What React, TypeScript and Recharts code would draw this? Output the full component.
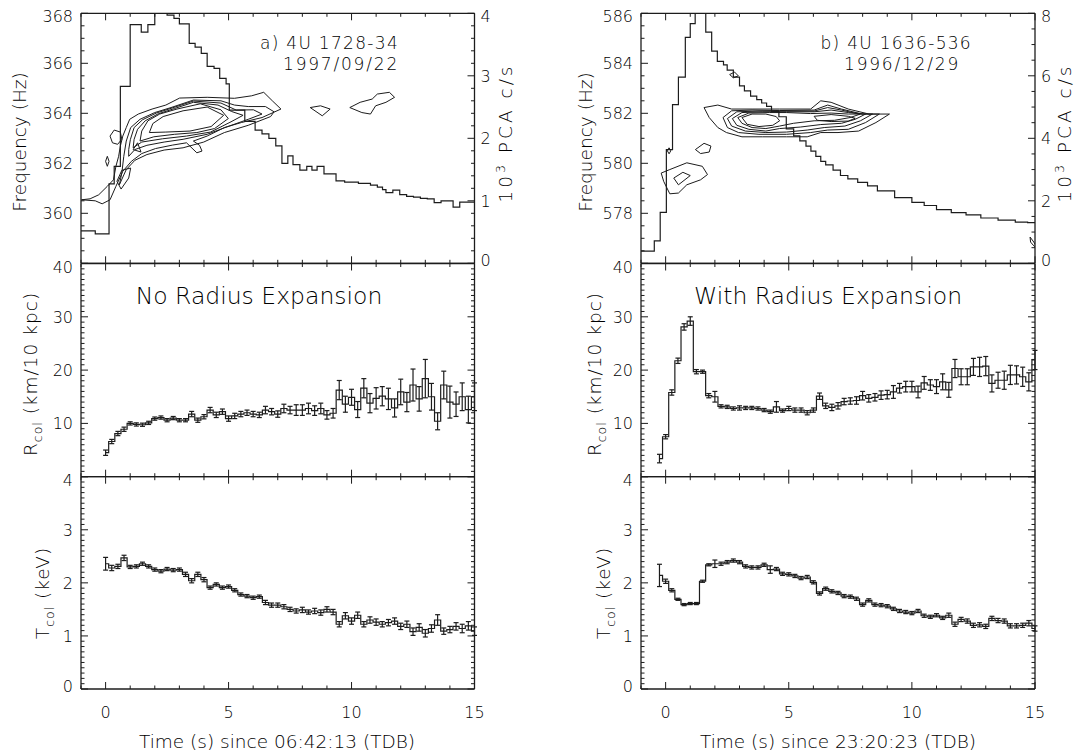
import React from 'react';
import { ComposedChart, Line, Scatter, XAxis, YAxis, ErrorBar } from 'recharts';

const W = 1076;
const H = 751;
const INK = '#1c1c1c';
const TEXT = '#000';
const FONT = '"DejaVu Sans", "Liberation Sans", sans-serif';
const AXW = 40;
const AXH = 10;

// plot boxes (pixels on the page)
const COL_L = { left: 81, right: 474.5 };
const COL_R = { left: 641, right: 1035 };
const ROW_TOP = { top: 13.3, bottom: 263.3 };
const ROW_MID = { top: 263.5, bottom: 476.7 };
const ROW_BOT = { top: 476.7, bottom: 689 };

// ---- data: 4U 1728-34 (left) ----
const TIME_L = [0, 0.25, 0.5, 0.75, 1, 1.25, 1.5, 1.75, 2, 2.25, 2.5, 2.75, 3, 3.25, 3.5, 3.75, 4, 4.25, 4.5, 4.75, 5, 5.25, 5.5, 5.75, 6, 6.25, 6.5, 6.75, 7, 7.25, 7.5, 7.75, 8, 8.25, 8.5, 8.75, 9, 9.25, 9.5, 9.75, 10, 10.25, 10.5, 10.75, 11, 11.25, 11.5, 11.75, 12, 12.25, 12.5, 12.75, 13, 13.25, 13.5, 13.75, 14, 14.25, 14.5, 14.75, 15];
const RCOL_L = [4.5, 6.6, 8.1, 8.9, 10.0, 9.8, 9.75, 10.1, 10.9, 11.1, 10.6, 11.0, 10.6, 10.6, 11.75, 10.6, 11.25, 12.5, 11.6, 12.2, 10.9, 11.4, 11.75, 12.0, 11.75, 11.6, 12.5, 12.2, 11.75, 12.8, 12.5, 12.5, 12.5, 12.8, 12.4, 12.8, 11.6, 11.9, 16.25, 13.6, 14.9, 12.6, 16.6, 13.8, 14.7, 15.1, 14.6, 12.9, 15.9, 14.0, 17.2, 14.6, 18.4, 15.0, 10.4, 17.2, 14.0, 13.6, 15.0, 12.6, 15.0];
const RERR_L = [0.5, 0.4, 0.4, 0.4, 0.3, 0.3, 0.3, 0.3, 0.3, 0.3, 0.3, 0.3, 0.3, 0.3, 0.5, 0.4, 0.4, 0.5, 0.5, 0.5, 0.5, 0.5, 0.5, 0.5, 0.5, 0.5, 0.7, 0.6, 0.6, 0.8, 0.7, 1.0, 1.0, 1.0, 0.9, 1.0, 0.8, 0.9, 1.8, 1.5, 1.5, 1.5, 1.8, 1.8, 2.0, 1.8, 2.0, 1.7, 2.4, 1.8, 3.0, 2.3, 3.6, 2.5, 1.6, 2.6, 3.0, 2.3, 2.6, 2.5, 2.6];
const TCOL_L = [2.36, 2.28, 2.31, 2.47, 2.30, 2.31, 2.36, 2.31, 2.25, 2.22, 2.26, 2.24, 2.25, 2.16, 2.04, 2.16, 2.06, 1.91, 1.97, 1.91, 1.93, 1.86, 1.78, 1.75, 1.72, 1.74, 1.63, 1.58, 1.58, 1.55, 1.50, 1.47, 1.49, 1.45, 1.47, 1.44, 1.50, 1.45, 1.22, 1.38, 1.28, 1.39, 1.22, 1.30, 1.26, 1.22, 1.25, 1.28, 1.18, 1.22, 1.08, 1.16, 1.05, 1.14, 1.30, 1.09, 1.12, 1.18, 1.14, 1.19, 1.09];
const TERR_L = [0.12, 0.05, 0.04, 0.05, 0.03, 0.03, 0.03, 0.03, 0.03, 0.03, 0.03, 0.03, 0.03, 0.04, 0.04, 0.04, 0.04, 0.03, 0.03, 0.03, 0.03, 0.03, 0.03, 0.03, 0.03, 0.03, 0.04, 0.04, 0.04, 0.04, 0.04, 0.04, 0.05, 0.04, 0.05, 0.05, 0.05, 0.05, 0.05, 0.06, 0.06, 0.06, 0.05, 0.06, 0.06, 0.05, 0.06, 0.06, 0.06, 0.06, 0.07, 0.07, 0.07, 0.07, 0.1, 0.06, 0.06, 0.07, 0.08, 0.08, 0.08];
// PCA count rate (10^3 c/s), bin start times
const CNT_T_L = [-1.0, -0.42, 0.14, 0.35, 0.6, 1.0, 1.45, 1.72, 2.0, 2.2, 2.5, 2.78, 3.0, 3.4, 3.64, 3.89, 4.13, 4.41, 4.64, 4.9, 5.03, 5.66, 6.08, 6.36, 6.64, 6.92, 7.17, 7.41, 7.62, 7.9, 8.18, 8.39, 8.6, 8.88, 9.37, 9.72, 10.28, 10.77, 11.05, 11.26, 11.4, 11.68, 11.96, 12.24, 12.52, 12.8, 13.08, 13.36, 13.64, 14.13, 14.4, 15.0];
const CNT_L = [0.52, 0.47, 1.27, 1.55, 2.83, 3.82, 3.70, 3.82, 4.02, 4.3, 3.97, 3.92, 3.83, 3.52, 3.46, 3.36, 3.15, 3.12, 2.96, 2.87, 2.45, 2.27, 2.13, 2.07, 2.0, 1.88, 1.6, 1.72, 1.58, 1.49, 1.55, 1.49, 1.55, 1.43, 1.32, 1.30, 1.28, 1.25, 1.22, 1.18, 1.13, 1.17, 1.1, 1.07, 1.06, 1.04, 1.03, 0.97, 1.0, 0.9, 0.98, 0.98];
// oscillation power contours (time s, frequency Hz)
const CONT_L: number[][][] = [
  [[-0.98, 360.54], [-0.42, 360.5], [-0.14, 360.38], [0.18, 360.54], [0.42, 361.08], [0.7, 361.68], [1.05, 362.08], [1.47, 362.39], [2.03, 362.59], [2.73, 362.73], [3.29, 362.82], [3.71, 362.42], [3.92, 362.49], [3.82, 362.72], [3.57, 362.89], [4.13, 363.09], [4.83, 363.43], [5.52, 363.63], [6.36, 363.83], [7.13, 364.17], [6.78, 364.5], [6.43, 364.84], [5.94, 364.7], [5.24, 364.6], [4.13, 364.64], [3.01, 364.61], [2.45, 364.33], [1.89, 364.17], [1.33, 363.97], [0.98, 363.76], [0.84, 363.43], [0.7, 363.09], [0.6, 362.69], [0.53, 362.28], [0.42, 361.88], [0.32, 361.34], [0.07, 361.08], [-0.28, 360.74], [-0.63, 360.58]],
  [[0.56, 361.14], [0.84, 361.75], [1.19, 362.12], [1.68, 362.35], [2.38, 362.53], [3.15, 362.62], [3.99, 362.85], [4.83, 363.23], [5.8, 363.52], [6.71, 363.87], [6.85, 364.06], [6.5, 364.27], [5.8, 364.27], [5.24, 364.33], [4.69, 364.5], [3.57, 364.53], [2.66, 364.23], [2.0, 364.03], [1.4, 363.76], [1.02, 363.43], [0.84, 362.89], [0.74, 362.28], [0.66, 361.61]],
  [[0.94, 362.28], [1.19, 362.55], [1.68, 362.72], [2.38, 362.85], [3.15, 362.96], [4.13, 363.16], [4.97, 363.47], [5.8, 363.76], [6.36, 363.97], [6.01, 364.14], [5.31, 364.13], [4.69, 364.41], [3.57, 364.49], [2.73, 364.22], [2.06, 364.01], [1.5, 363.74], [1.16, 363.43], [1.01, 362.96], [0.94, 362.55]],
  [[1.12, 362.62], [1.47, 362.85], [2.31, 362.98], [3.29, 363.09], [4.27, 363.25], [5.1, 363.66], [5.59, 363.92], [5.13, 364.07], [4.57, 364.33], [3.57, 364.44], [2.8, 364.19], [2.14, 363.98], [1.61, 363.7], [1.3, 363.36], [1.16, 362.96]],
  [[1.4, 362.89], [1.96, 363.06], [2.8, 363.16], [3.71, 363.23], [4.43, 363.39], [4.99, 363.79], [4.69, 364.14], [3.85, 364.38], [2.9, 364.17], [2.2, 363.97], [1.72, 363.7], [1.47, 363.29]],
  [[1.78, 363.23], [2.45, 363.25], [3.43, 363.29], [4.29, 363.47], [4.8, 363.92], [4.13, 364.25], [3.15, 364.1], [2.34, 363.87], [1.92, 363.59]],
  [[1.12, 362.55], [1.3, 362.82], [1.44, 362.45]],
  [[0.18, 363.09], [0.35, 363.33], [0.6, 363.25], [0.66, 362.96], [0.49, 362.76], [0.28, 362.82]],
  [[0.0, 362.08], [0.07, 362.28], [0.14, 362.08], [0.07, 361.88]],
  [[0.46, 361.28], [0.66, 361.72], [1.02, 361.81], [0.94, 361.41], [0.63, 360.97]],
  [[8.32, 364.23], [8.74, 364.3], [9.13, 364.17], [8.81, 363.9]],
  [[9.93, 364.23], [10.35, 364.44], [10.84, 364.57], [11.05, 364.77], [11.54, 364.84], [11.75, 364.64], [11.4, 364.44], [10.98, 364.3], [10.77, 363.97], [10.42, 364.03]],
];

// ---- data: 4U 1636-536 (right) ----
const TIME_R = [-0.25, ...TIME_L];
const RCOL_R = [3.4, 7.5, 15.8, 21.75, 28.1, 29.2, 19.7, 19.7, 15.2, 15.0, 13.2, 13.1, 12.8, 12.9, 12.9, 12.9, 12.8, 12.5, 12.2, 13.1, 12.4, 12.8, 12.5, 12.5, 12.0, 12.5, 15.1, 13.3, 13.0, 13.3, 14.1, 14.2, 14.3, 15.2, 14.7, 14.9, 15.3, 15.4, 15.9, 16.6, 16.9, 16.9, 15.9, 17.6, 17.2, 16.9, 17.8, 16.3, 20.3, 18.75, 18.75, 20.6, 20.6, 20.75, 17.5, 18.1, 18.1, 19.1, 19.1, 18.75, 17.8, 21.9];
const RERR_R = [0.8, 0.4, 0.5, 0.5, 0.6, 0.8, 0.4, 0.3, 0.4, 1.0, 0.3, 0.3, 0.3, 0.4, 0.3, 0.3, 0.3, 0.3, 0.3, 1.0, 0.3, 0.4, 0.4, 0.4, 0.4, 0.4, 0.6, 0.5, 0.6, 0.6, 0.6, 0.6, 0.7, 0.8, 0.7, 0.7, 0.8, 0.8, 1.2, 0.9, 1.0, 1.0, 1.1, 1.2, 1.0, 1.3, 1.5, 1.4, 1.7, 1.5, 1.5, 1.6, 1.8, 1.8, 1.6, 1.5, 1.7, 1.8, 1.7, 1.8, 1.7, 1.8];
const TCOL_R = [2.14, 2.03, 1.86, 1.69, 1.59, 1.61, 1.61, 2.03, 2.34, 2.36, 2.36, 2.39, 2.42, 2.39, 2.31, 2.29, 2.29, 2.34, 2.25, 2.26, 2.17, 2.16, 2.13, 2.09, 2.11, 2.01, 1.80, 1.89, 1.84, 1.81, 1.75, 1.74, 1.70, 1.59, 1.67, 1.59, 1.58, 1.56, 1.51, 1.47, 1.45, 1.43, 1.47, 1.38, 1.36, 1.39, 1.34, 1.39, 1.22, 1.31, 1.28, 1.20, 1.21, 1.18, 1.33, 1.29, 1.28, 1.19, 1.19, 1.20, 1.24, 1.14];
const TERR_R = [0.21, 0.04, 0.03, 0.02, 0.02, 0.02, 0.02, 0.02, 0.02, 0.07, 0.03, 0.03, 0.03, 0.03, 0.03, 0.03, 0.03, 0.03, 0.07, 0.03, 0.03, 0.03, 0.03, 0.03, 0.03, 0.03, 0.03, 0.03, 0.03, 0.03, 0.03, 0.03, 0.03, 0.03, 0.03, 0.03, 0.03, 0.03, 0.03, 0.03, 0.03, 0.03, 0.03, 0.03, 0.03, 0.03, 0.03, 0.04, 0.04, 0.04, 0.04, 0.04, 0.04, 0.04, 0.04, 0.04, 0.04, 0.04, 0.04, 0.04, 0.05, 0.05];
const CNT_T_R = [-1.0, -0.46, -0.22, 0.03, 0.28, 0.52, 0.8, 1.0, 1.2, 1.38, 1.63, 1.87, 2.1, 2.35, 2.5, 2.75, 3.0, 3.2, 3.45, 3.7, 3.9, 4.1, 4.3, 4.6, 4.9, 5.2, 5.45, 5.7, 5.9, 6.1, 6.3, 6.5, 6.8, 7.1, 7.4, 7.8, 8.2, 8.6, 9.3, 10.0, 10.5, 11.0, 11.6, 12.2, 12.8, 13.5, 14.2, 14.7, 15.0];
const CNT_R = [0.39, 0.72, 1.63, 3.64, 5.08, 5.96, 7.23, 7.67, 8.0, 8.6, 7.4, 6.79, 6.46, 6.35, 6.18, 5.96, 5.68, 5.52, 5.35, 5.24, 5.13, 5.02, 4.86, 4.69, 4.3, 4.08, 3.92, 3.75, 3.59, 3.42, 3.26, 3.15, 2.98, 2.81, 2.70, 2.59, 2.48, 2.32, 2.10, 1.95, 1.85, 1.72, 1.62, 1.55, 1.45, 1.38, 1.32, 1.30, 1.30];
const CONT_R: number[][][] = [
  [[1.56, 582.23], [2.12, 582.33], [2.68, 582.17], [3.51, 582.17], [4.63, 582.17], [5.89, 582.17], [6.3, 582.5], [6.72, 582.44], [7.42, 582.17], [8.26, 581.97], [9.09, 581.97], [8.54, 581.63], [7.84, 581.29], [7.0, 581.23], [6.3, 581.23], [5.75, 581.06], [4.91, 581.06], [3.93, 581.06], [3.1, 581.06], [2.47, 581.23], [2.12, 581.43], [1.77, 581.83]],
  [[2.33, 581.83], [2.68, 582.1], [3.51, 582.13], [4.63, 582.11], [6.03, 582.13], [6.58, 582.33], [7.14, 582.17], [7.98, 581.97], [8.68, 581.97], [8.12, 581.63], [7.42, 581.36], [6.58, 581.33], [5.89, 581.23], [4.91, 581.16], [3.79, 581.16], [2.96, 581.23], [2.51, 581.43]],
  [[2.51, 581.79], [2.89, 582.06], [3.79, 582.09], [4.91, 582.09], [6.03, 582.09], [6.58, 582.23], [7.14, 582.13], [7.84, 581.97], [8.4, 581.97], [7.91, 581.7], [7.28, 581.49], [6.44, 581.43], [5.75, 581.33], [4.91, 581.25], [4.07, 581.23], [3.24, 581.29], [2.68, 581.49]],
  [[2.71, 581.79], [3.1, 582.03], [3.93, 582.06], [4.91, 582.06], [6.03, 582.06], [6.72, 582.13], [7.42, 582.03], [8.12, 581.97], [7.7, 581.76], [7.14, 581.6], [6.3, 581.55], [5.47, 581.45], [4.63, 581.39], [4.07, 581.29], [3.38, 581.36], [2.89, 581.52]],
  [[2.93, 581.83], [3.38, 582.01], [4.21, 582.03], [4.91, 582.03], [5.89, 581.99], [6.72, 582.01], [7.42, 581.97], [7.91, 581.97], [7.49, 581.83], [6.86, 581.72], [6.03, 581.7], [5.19, 581.6], [4.63, 581.49], [4.07, 581.39], [3.51, 581.43], [3.1, 581.6]],
  [[3.1, 581.83], [3.51, 581.97], [4.07, 581.97], [4.49, 581.87], [4.63, 581.7], [4.35, 581.52], [3.79, 581.47], [3.31, 581.56]],
  [[6.03, 581.88], [6.72, 581.95], [7.42, 581.88], [7.7, 581.8], [7.42, 581.69], [6.72, 581.67], [6.16, 581.72]],
  [[0.07, 580.5], [0.14, 580.62], [0.21, 580.5], [0.14, 580.38]],
  [[1.21, 580.55], [1.56, 580.8], [1.84, 580.69], [1.77, 580.45], [1.42, 580.39]],
  [[-0.18, 579.61], [0.17, 579.75], [0.86, 580.02], [1.49, 579.88], [1.7, 579.55], [1.42, 579.34], [0.86, 579.14], [0.52, 578.81], [0.17, 578.78], [-0.08, 579.28]],
  [[0.33, 579.41], [0.7, 579.64], [1.0, 579.51], [0.52, 579.14]],
  [[2.6, 583.55], [2.8, 583.65], [2.95, 583.5], [2.75, 583.42]],
  [[14.8, 577.05], [14.95, 576.85], [15.1, 576.6], [14.95, 576.7], [14.82, 576.85]],
];

const X_TICKS = [-1, 0, 1, 2, 3, 4, 5, 6, 7, 8, 9, 10, 11, 12, 13, 14, 15];

// tick positions for an axis (minor + major)
const steps = (lo: number, hi: number, step: number) => {
  const out: number[] = [];
  for (let k = 0; lo + k * step <= hi + 1e-9; k++) out.push(Math.round((lo + k * step) * 1000) / 1000);
  return out;
};

const near = (a: number, b: number) => Math.abs(a - b) < 1e-6;

type Side = 'left' | 'right' | 'top' | 'bottom';
interface TickOpt { major: number; labels?: boolean; skip?: number[]; lo?: number; hi?: number }

// IDL-style ticks: drawn inwards, labels only on majors
function mkTick(side: Side, o: TickOpt) {
  return (p: any) => {
    const v = Number(p.payload.value);
    const isMajor = near(v / o.major, Math.round(v / o.major));
    const len = isMajor ? 7 : 3.5;
    const x = p.x;
    const y = p.y;
    const ex = side === 'left' ? x + len : side === 'right' ? x - len : x;
    const ey = side === 'bottom' ? y - len : side === 'top' ? y + len : y;
    let label = null;
    if (o.labels && isMajor && !(o.skip || []).some((s) => near(s, v))) {
      const style = { fontFamily: FONT, fontSize: 16, fill: TEXT, fontWeight: 300 };
      if (side === 'bottom') {
        label = <text x={x} y={y + 29} textAnchor="middle" style={style}>{v}</text>;
      } else {
        let dy = 0;
        if (o.hi !== undefined && near(v, o.hi)) dy = 3;
        if (o.lo !== undefined && near(v, o.lo)) dy = -3;
        label = (
          <text x={side === 'left' ? x - 8 : x + 6} y={y + dy + 6} textAnchor={side === 'left' ? 'end' : 'start'} style={style}>
            {v}
          </text>
        );
      }
    }
    return (
      <g>
        <line x1={x} y1={y} x2={ex} y2={ey} stroke={INK} strokeWidth={1} />
        {label}
      </g>
    );
  };
}

const axisBase = {
  tickLine: false,
  tickSize: 0,
  tickMargin: 0,
  interval: 0 as const,
  allowDataOverflow: true,
  axisLine: { stroke: INK, strokeWidth: 1.3 },
};

type Col = { left: number; right: number };
type Row = { top: number; bottom: number };
const marginOf = (c: Col, r: Row) => ({
  left: c.left - AXW,
  right: W - c.right - AXW,
  top: r.top - AXH,
  bottom: H - r.bottom - AXH,
});

const abs: React.CSSProperties = { position: 'absolute', left: 0, top: 0 };

function TopPanel(props: {
  col: Col; t: number[]; c: number[]; rings: number[][][];
  fDomain: [number, number]; cDomain: [number, number]; cMajor: number; cMinor: number;
}) {
  const { col, t, c, rings, fDomain, cDomain, cMajor, cMinor } = props;
  const data = t.map((tt, i) => ({ t: tt, c: c[i] }));
  const loops = rings.map((r) => [...r, r[0]].map(([tt, f]) => ({ t: tt, f })));
  return (
    <div style={abs}>
      <ComposedChart width={W} height={H} margin={marginOf(col, ROW_TOP)} data={data}>
        <XAxis xAxisId="b" type="number" dataKey="t" domain={[-1, 15]} ticks={X_TICKS} height={AXH} {...axisBase} tick={mkTick('bottom', { major: 5 })} />
        <XAxis xAxisId="top" orientation="top" type="number" dataKey="t" domain={[-1, 15]} ticks={X_TICKS} height={AXH} {...axisBase} tick={mkTick('top', { major: 5 })} />
        <YAxis yAxisId="f" type="number" dataKey="f" domain={fDomain} ticks={steps(fDomain[0], fDomain[1], 0.5)} width={AXW} {...axisBase}
          tick={mkTick('left', { major: 2, labels: true, skip: [fDomain[0]], hi: fDomain[1] })} />
        <YAxis yAxisId="c" orientation="right" type="number" dataKey="c" domain={cDomain} ticks={steps(cDomain[0], cDomain[1], cMinor)} width={AXW} {...axisBase}
          tick={mkTick('right', { major: cMajor, labels: true, lo: cDomain[0], hi: cDomain[1] })} />
        {loops.map((pts, i) => (
          <Scatter key={i} xAxisId="b" yAxisId="f" data={pts} dataKey="f" line={{ stroke: INK, strokeWidth: 1 }} lineType="joint"
            shape={() => <g />} isAnimationActive={false} legendType="none" />
        ))}
        <Line xAxisId="b" yAxisId="c" dataKey="c" type="stepAfter" stroke={INK} strokeWidth={1.2} dot={false} activeDot={false} isAnimationActive={false} />
      </ComposedChart>
    </div>
  );
}

function ErrPanel(props: {
  col: Col; row: Row; t: number[]; v: number[]; e: number[];
  domain: [number, number]; major: number; minor: number; skip: number[]; xLabels: boolean;
}) {
  const { col, row, t, v, e, domain, major, minor, skip, xLabels } = props;
  const data = t.map((tt, i) => ({ t: tt, v: v[i], e: e[i] }));
  return (
    <div style={abs}>
      <ComposedChart width={W} height={H} margin={marginOf(col, row)} data={data}>
        <XAxis xAxisId="b" type="number" dataKey="t" domain={[-1, 15]} ticks={X_TICKS} height={AXH} {...axisBase}
          tick={mkTick('bottom', { major: 5, labels: xLabels })} />
        <XAxis xAxisId="top" orientation="top" type="number" dataKey="t" domain={[-1, 15]} ticks={X_TICKS} height={AXH} {...axisBase}
          tick={mkTick('top', { major: 5 })} />
        <YAxis yAxisId="l" type="number" dataKey="v" domain={domain} ticks={steps(domain[0], domain[1], minor)} width={AXW} {...axisBase}
          tick={mkTick('left', { major, labels: true, skip, lo: domain[0], hi: domain[1] })} />
        <YAxis yAxisId="r" orientation="right" type="number" domain={domain} ticks={steps(domain[0], domain[1], minor)} width={AXW} {...axisBase}
          tick={mkTick('right', { major })} />
        <Line xAxisId="b" yAxisId="l" dataKey="v" type="step" stroke={INK} strokeWidth={1.2} dot={false} activeDot={false} isAnimationActive={false}>
          <ErrorBar dataKey="e" direction="y" width={2.5} stroke={INK} strokeWidth={1.2} />
        </Line>
      </ComposedChart>
    </div>
  );
}

const txt = { fontFamily: FONT, fill: TEXT, fontWeight: 300 };

function VLabel({ x, y, children, ls = 0 }: { x: number; y: number; children: React.ReactNode; ls?: number }) {
  return (
    <text x={x} y={y} transform={`rotate(-90 ${x} ${y})`} textAnchor="middle" style={{ ...txt, fontSize: 18.5, letterSpacing: ls }}>
      {children}
    </text>
  );
}

const sub = (s: string) => (
  <>
    <tspan fontSize={12.5} dy={5}>{s}</tspan>
    <tspan dy={-5}> </tspan>
  </>
);

function Labels() {
  return (
    <svg width={W} height={H} style={{ ...abs, pointerEvents: 'none' }}>
      {/* left column */}
      <VLabel x={26} y={142}>Frequency (Hz)</VLabel>
      <VLabel x={512} y={133} ls={3}>10<tspan fontSize={12.5} dy={-7}>3</tspan><tspan dy={7}> PCA c/s</tspan></VLabel>
      <VLabel x={37} y={374} ls={1}>R{sub('col')}(km/10 kpc)</VLabel>
      <VLabel x={49} y={593} ls={1}>T{sub('col')}(keV)</VLabel>
      <text x={399} y={49} textAnchor="end" style={{ ...txt, fontSize: 17, letterSpacing: 1.3 }}>a) 4U 1728-34</text>
      <text x={399} y={69.5} textAnchor="end" style={{ ...txt, fontSize: 17, letterSpacing: 1.8 }}>1997/09/22</text>
      <text x={259} y={304} textAnchor="middle" style={{ ...txt, fontSize: 23.5 }}>No Radius Expansion</text>
      <text x={277} y={748} textAnchor="middle" style={{ ...txt, fontSize: 18.5 }}>Time (s) since 06:42:13 (TDB)</text>
      {/* right column */}
      <VLabel x={592} y={142}>Frequency (Hz)</VLabel>
      <VLabel x={1071} y={133} ls={3}>10<tspan fontSize={12.5} dy={-7}>3</tspan><tspan dy={7}> PCA c/s</tspan></VLabel>
      <VLabel x={601} y={374} ls={1}>R{sub('col')}(km/10 kpc)</VLabel>
      <VLabel x={610} y={593} ls={1}>T{sub('col')}(keV)</VLabel>
      <text x={972} y={49} textAnchor="end" style={{ ...txt, fontSize: 17, letterSpacing: 1.3 }}>b) 4U 1636-536</text>
      <text x={960} y={69.5} textAnchor="end" style={{ ...txt, fontSize: 17, letterSpacing: 1.8 }}>1996/12/29</text>
      <text x={828} y={304} textAnchor="middle" style={{ ...txt, fontSize: 23.5 }}>With Radius Expansion</text>
      <text x={838} y={748} textAnchor="middle" style={{ ...txt, fontSize: 18.5 }}>Time (s) since 23:20:23 (TDB)</text>
    </svg>
  );
}

export default function App() {
  return (
    <div style={{ ...abs, width: W, height: H, background: '#fff', overflow: 'hidden' }}>
      <TopPanel col={COL_L} t={CNT_T_L} c={CNT_L} rings={CONT_L} fDomain={[358, 368]} cDomain={[0, 4]} cMajor={1} cMinor={0.2} />
      <ErrPanel col={COL_L} row={ROW_MID} t={TIME_L} v={RCOL_L} e={RERR_L} domain={[0, 40]} major={10} minor={1} skip={[0]} xLabels={false} />
      <ErrPanel col={COL_L} row={ROW_BOT} t={TIME_L} v={TCOL_L} e={TERR_L} domain={[0, 4]} major={1} minor={0.1} skip={[]} xLabels={true} />

      <TopPanel col={COL_R} t={CNT_T_R} c={CNT_R} rings={CONT_R} fDomain={[576, 586]} cDomain={[0, 8]} cMajor={2} cMinor={0.5} />
      <ErrPanel col={COL_R} row={ROW_MID} t={TIME_R} v={RCOL_R} e={RERR_R} domain={[0, 40]} major={10} minor={1} skip={[0]} xLabels={false} />
      <ErrPanel col={COL_R} row={ROW_BOT} t={TIME_R} v={TCOL_R} e={TERR_R} domain={[0, 4]} major={1} minor={0.1} skip={[]} xLabels={true} />

      <Labels />
    </div>
  );
}
